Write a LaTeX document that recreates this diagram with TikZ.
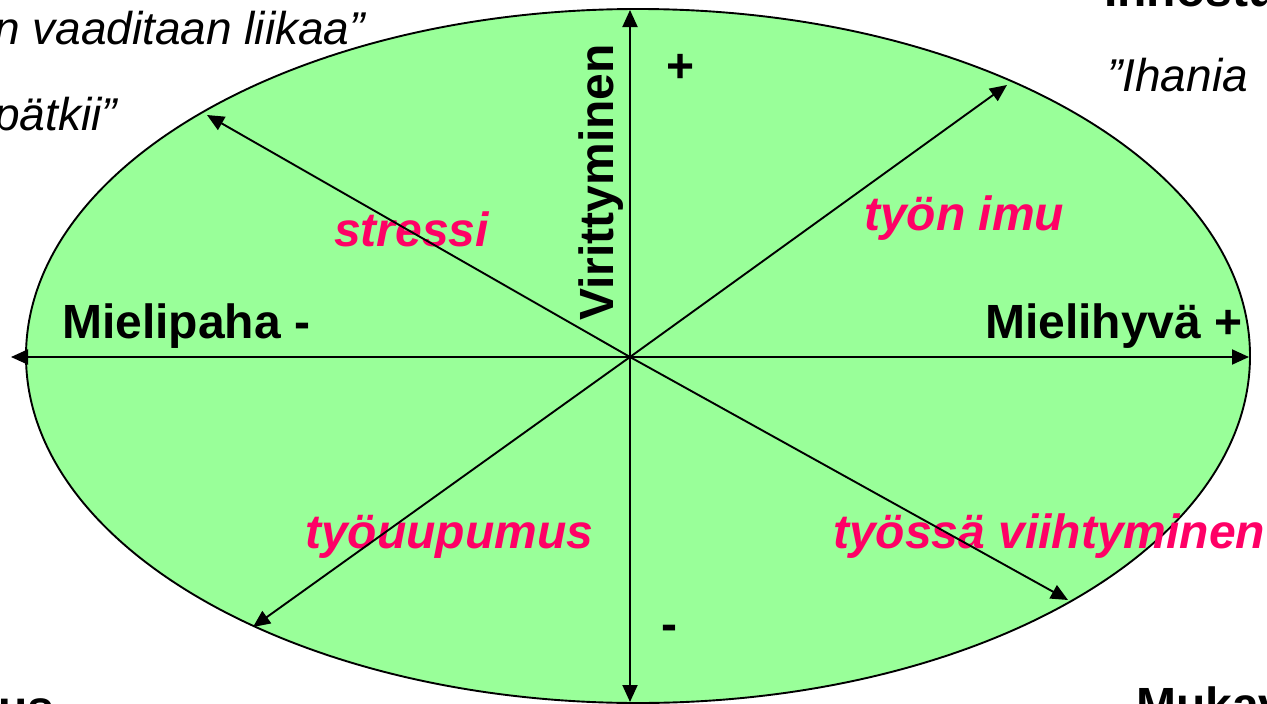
\documentclass[tikz,border=0pt]{standalone}
\usepackage{fontspec}
\setmainfont{Liberation Sans}
\usetikzlibrary{arrows.meta}
\definecolor{ovalgreen}{HTML}{99FF99}
\definecolor{labelpink}{HTML}{FF0066}
\tikzset{
  axis/.style={line width=1.9pt, -{Triangle[length=17pt,width=15pt]}},
  boldlbl/.style={font=\fontsize{48}{58}\selectfont\bfseries, inner sep=0pt, anchor=base west},
  pinklbl/.style={font=\fontsize{48}{58}\selectfont\bfseries\itshape, text=labelpink, inner sep=0pt, anchor=base west},
  quote/.style={font=\fontsize{46}{56}\selectfont\itshape, inner sep=0pt, anchor=base west},
}
\begin{document}
\begin{tikzpicture}[x=1pt,y=-1pt]
\useasboundingbox (0,0) rectangle (1267,704);
\clip (0,0) rectangle (1267,704);
% oval
\filldraw[fill=ovalgreen, draw=black, line width=1.9pt] (638,356) ellipse [x radius=612, y radius=347];
\coordinate (o) at (630,357);
\coordinate (left) at (11,357);
\coordinate (right) at (1249,357);
\coordinate (top) at (630,10);
\coordinate (bottom) at (630,702);
\coordinate (ul) at (207,115);
\coordinate (ur) at (1007,85);
\coordinate (ll) at (253,627);
\coordinate (lr) at (1068,600);
% labels inside
\node[boldlbl] (mp) at (62,338) {Mielipaha -};
\node[boldlbl] (mh) at (985,338) {Mielihyvä +};
\node[boldlbl, rotate=90] (vir) at (613,321) {Virittyminen};
\node[boldlbl] (plus) at (666,82) {+};
\node[boldlbl] (minus) at (661,640) {-};
\node[pinklbl] (st) at (334,246) {stressi};
\node[pinklbl] (ti) at (864,230) {työn imu};
\node[pinklbl] (tu) at (305,548) {työuupumus};
\node[pinklbl] (tv) at (833,548) {työssä viihtyminen};
% outside texts
\node[quote] (q1) at (-6,44) {n vaaditaan liikaa”};
\node[quote] (q2) at (-6,130) {pätkii”};
\node[quote] (q3) at (1107,91) {”Ihania};
\node[boldlbl] (t1) at (1104,6) {Innostus};
\node[boldlbl] (t2) at (-2,724) {us};
\node[boldlbl] (t3) at (1136,721) {Mukava};
% axes
\draw[axis] (o) -- (left);
\draw[axis] (o) -- (right);
\draw[axis] (o) -- (top);
\draw[axis] (o) -- (bottom);
\draw[axis] (o) -- (ul);
\draw[axis] (o) -- (ur);
\draw[axis] (o) -- (ll);
\draw[axis] (o) -- (lr);
\end{tikzpicture}
\end{document}
